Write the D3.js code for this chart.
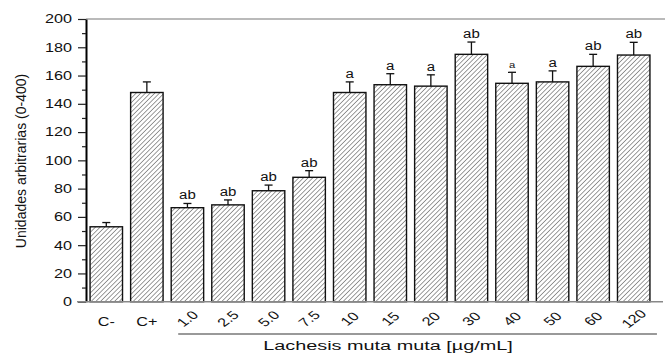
<!DOCTYPE html>
<html lang="es">
<head>
    <meta charset="UTF-8">
    <title>Unidades arbitrarias - Lachesis muta muta</title>
    <script src="https://d3js.org/d3.v7.min.js"></script>
    <style>
        body { margin: 0; background: #fff; }
        svg text { font-family: "Liberation Sans", Arial, sans-serif; fill: #111; }
    </style>
</head>
<body>
    <svg width="665" height="354"></svg>

    <script>
        // categories and values
        const categories = ["C-", "C+", "1.0", "2.5", "5.0", "7.5", "10", "15", "20", "30", "40", "50", "60", "120"];
        const means  = [53, 148, 66.5, 68.5, 78.5, 88, 148, 153.5, 152.5, 175, 154.5, 155.5, 166.5, 174.5];
        const errors = [3, 7.5, 3, 3.5, 4, 4.7, 7.5, 7.8, 8, 8.7, 7.8, 7.8, 8.5, 9];
        const marks  = ["", "", "ab", "ab", "ab", "ab", "a", "a", "a", "ab", "a", "a", "ab", "ab"];
        const yTicks = [0, 20, 40, 60, 80, 100, 120, 140, 160, 180, 200];
        const yMinor = [10, 30, 50, 70, 90, 110, 130, 150, 170, 190];

        const svg = d3.select("svg");
        const sx = 1.35; // labels in the picture are drawn wide

        const x = d3.scaleBand()
            .domain(categories)
            .range([86, 654])
            .paddingInner(0.2)
            .paddingOuter(0.1);

        const y = d3.scaleLinear()
            .domain([0, 200])
            .range([301.7, 19]);

        // hatch pattern
        svg.append("defs").append("pattern")
            .attr("id", "hatch")
            .attr("patternUnits", "userSpaceOnUse")
            .attr("width", 3.3)
            .attr("height", 10)
            .attr("patternTransform", "rotate(45)")
            .append("line")
            .attr("x1", 0).attr("y1", 0)
            .attr("x2", 0).attr("y2", 10)
            .attr("stroke", "#222")
            .attr("stroke-width", 0.9);

        // top frame line
        svg.append("line")
            .attr("x1", 86).attr("x2", 665)
            .attr("y1", y(200)).attr("y2", y(200))
            .attr("stroke", "#777").attr("stroke-width", 1.2);

        // bars
        svg.selectAll("rect.bar")
            .data(categories)
            .enter().append("rect")
            .attr("class", "bar")
            .attr("x", d => x(d))
            .attr("y", (d, i) => y(means[i]))
            .attr("width", x.bandwidth())
            .attr("height", (d, i) => y(0) - y(means[i]))
            .attr("fill", "url(#hatch)")
            .attr("stroke", "#111")
            .attr("stroke-width", 1.4);

        // error bars (upper only)
        const eb = svg.selectAll("g.err")
            .data(categories)
            .enter().append("g")
            .attr("class", "err")
            .attr("stroke", "#111")
            .attr("stroke-width", 1.3);
        eb.append("line")
            .attr("x1", d => x(d) + x.bandwidth() / 2)
            .attr("x2", d => x(d) + x.bandwidth() / 2)
            .attr("y1", (d, i) => y(means[i]))
            .attr("y2", (d, i) => y(means[i] + errors[i]));
        eb.append("line")
            .attr("x1", d => x(d) + x.bandwidth() / 2 - 4)
            .attr("x2", d => x(d) + x.bandwidth() / 2 + 4)
            .attr("y1", (d, i) => y(means[i] + errors[i]))
            .attr("y2", (d, i) => y(means[i] + errors[i]));

        // significance letters
        svg.selectAll("text.mark")
            .data(categories)
            .enter().append("text")
            .attr("class", "mark")
            .attr("text-anchor", "middle")
            .attr("font-size", (d, i) => d === "40" ? 9 : 12)
            .attr("transform", (d, i) =>
                `translate(${x(d) + x.bandwidth() / 2},${y(means[i] + errors[i]) - 4}) scale(1.25,1)`)
            .text((d, i) => marks[i]);

        // y axis
        const yAxis = svg.append("g")
            .attr("transform", "translate(86,0)")
            .call(d3.axisLeft(y).tickValues(yTicks).tickSize(8).tickSizeOuter(0).tickPadding(0));
        yAxis.select(".domain").attr("stroke", "#000").attr("stroke-width", 2);
        yAxis.selectAll(".tick line").attr("stroke", "#222").attr("stroke-width", 1.2);
        yAxis.selectAll(".tick text")
            .attr("font-size", 12)
            .attr("x", -14 / sx)
            .attr("transform", `scale(${sx},1)`);

        svg.append("g")
            .attr("transform", "translate(86,0)")
            .call(d3.axisLeft(y).tickValues(yMinor).tickSize(4).tickFormat(""))
            .call(g => g.select(".domain").remove())
            .selectAll(".tick line").attr("stroke", "#222").attr("stroke-width", 1.2);

        // x axis (labels only, baseline drawn separately)
        svg.append("line")
            .attr("x1", 77).attr("x2", 663)
            .attr("y1", y(0)).attr("y2", y(0))
            .attr("stroke", "#888").attr("stroke-width", 1.6);

        const xAxis = svg.append("g")
            .attr("transform", `translate(0,${y(0)})`)
            .call(d3.axisBottom(x).tickSize(0));
        xAxis.select(".domain").remove();
        xAxis.selectAll(".tick text")
            .attr("font-size", 12)
            .attr("y", 0)
            .attr("dy", "0.35em")
            .attr("text-anchor", "middle")
            .attr("transform", d => d.startsWith("C")
                ? `translate(0,20) scale(${sx},1)`
                : `translate(0,17) scale(${sx},1) rotate(-45)`);

        // bracket under concentrations
        svg.append("line")
            .attr("x1", x("1.0") + 7)
            .attr("x2", x("120") + x.bandwidth() + 7)
            .attr("y1", 334).attr("y2", 334)
            .attr("stroke", "#777").attr("stroke-width", 1.6);

        // axis titles
        svg.append("text")
            .attr("text-anchor", "middle")
            .attr("font-size", 13.7)
            .attr("transform", "translate(388,350) scale(1.45,1)")
            .text("Lachesis muta muta [µg/mL]");

        svg.append("text")
            .attr("text-anchor", "middle")
            .attr("font-size", 14)
            .attr("transform", "translate(26,161) rotate(-90)")
            .text("Unidades arbitrarias (0-400)");
    </script>
</body>
</html>
